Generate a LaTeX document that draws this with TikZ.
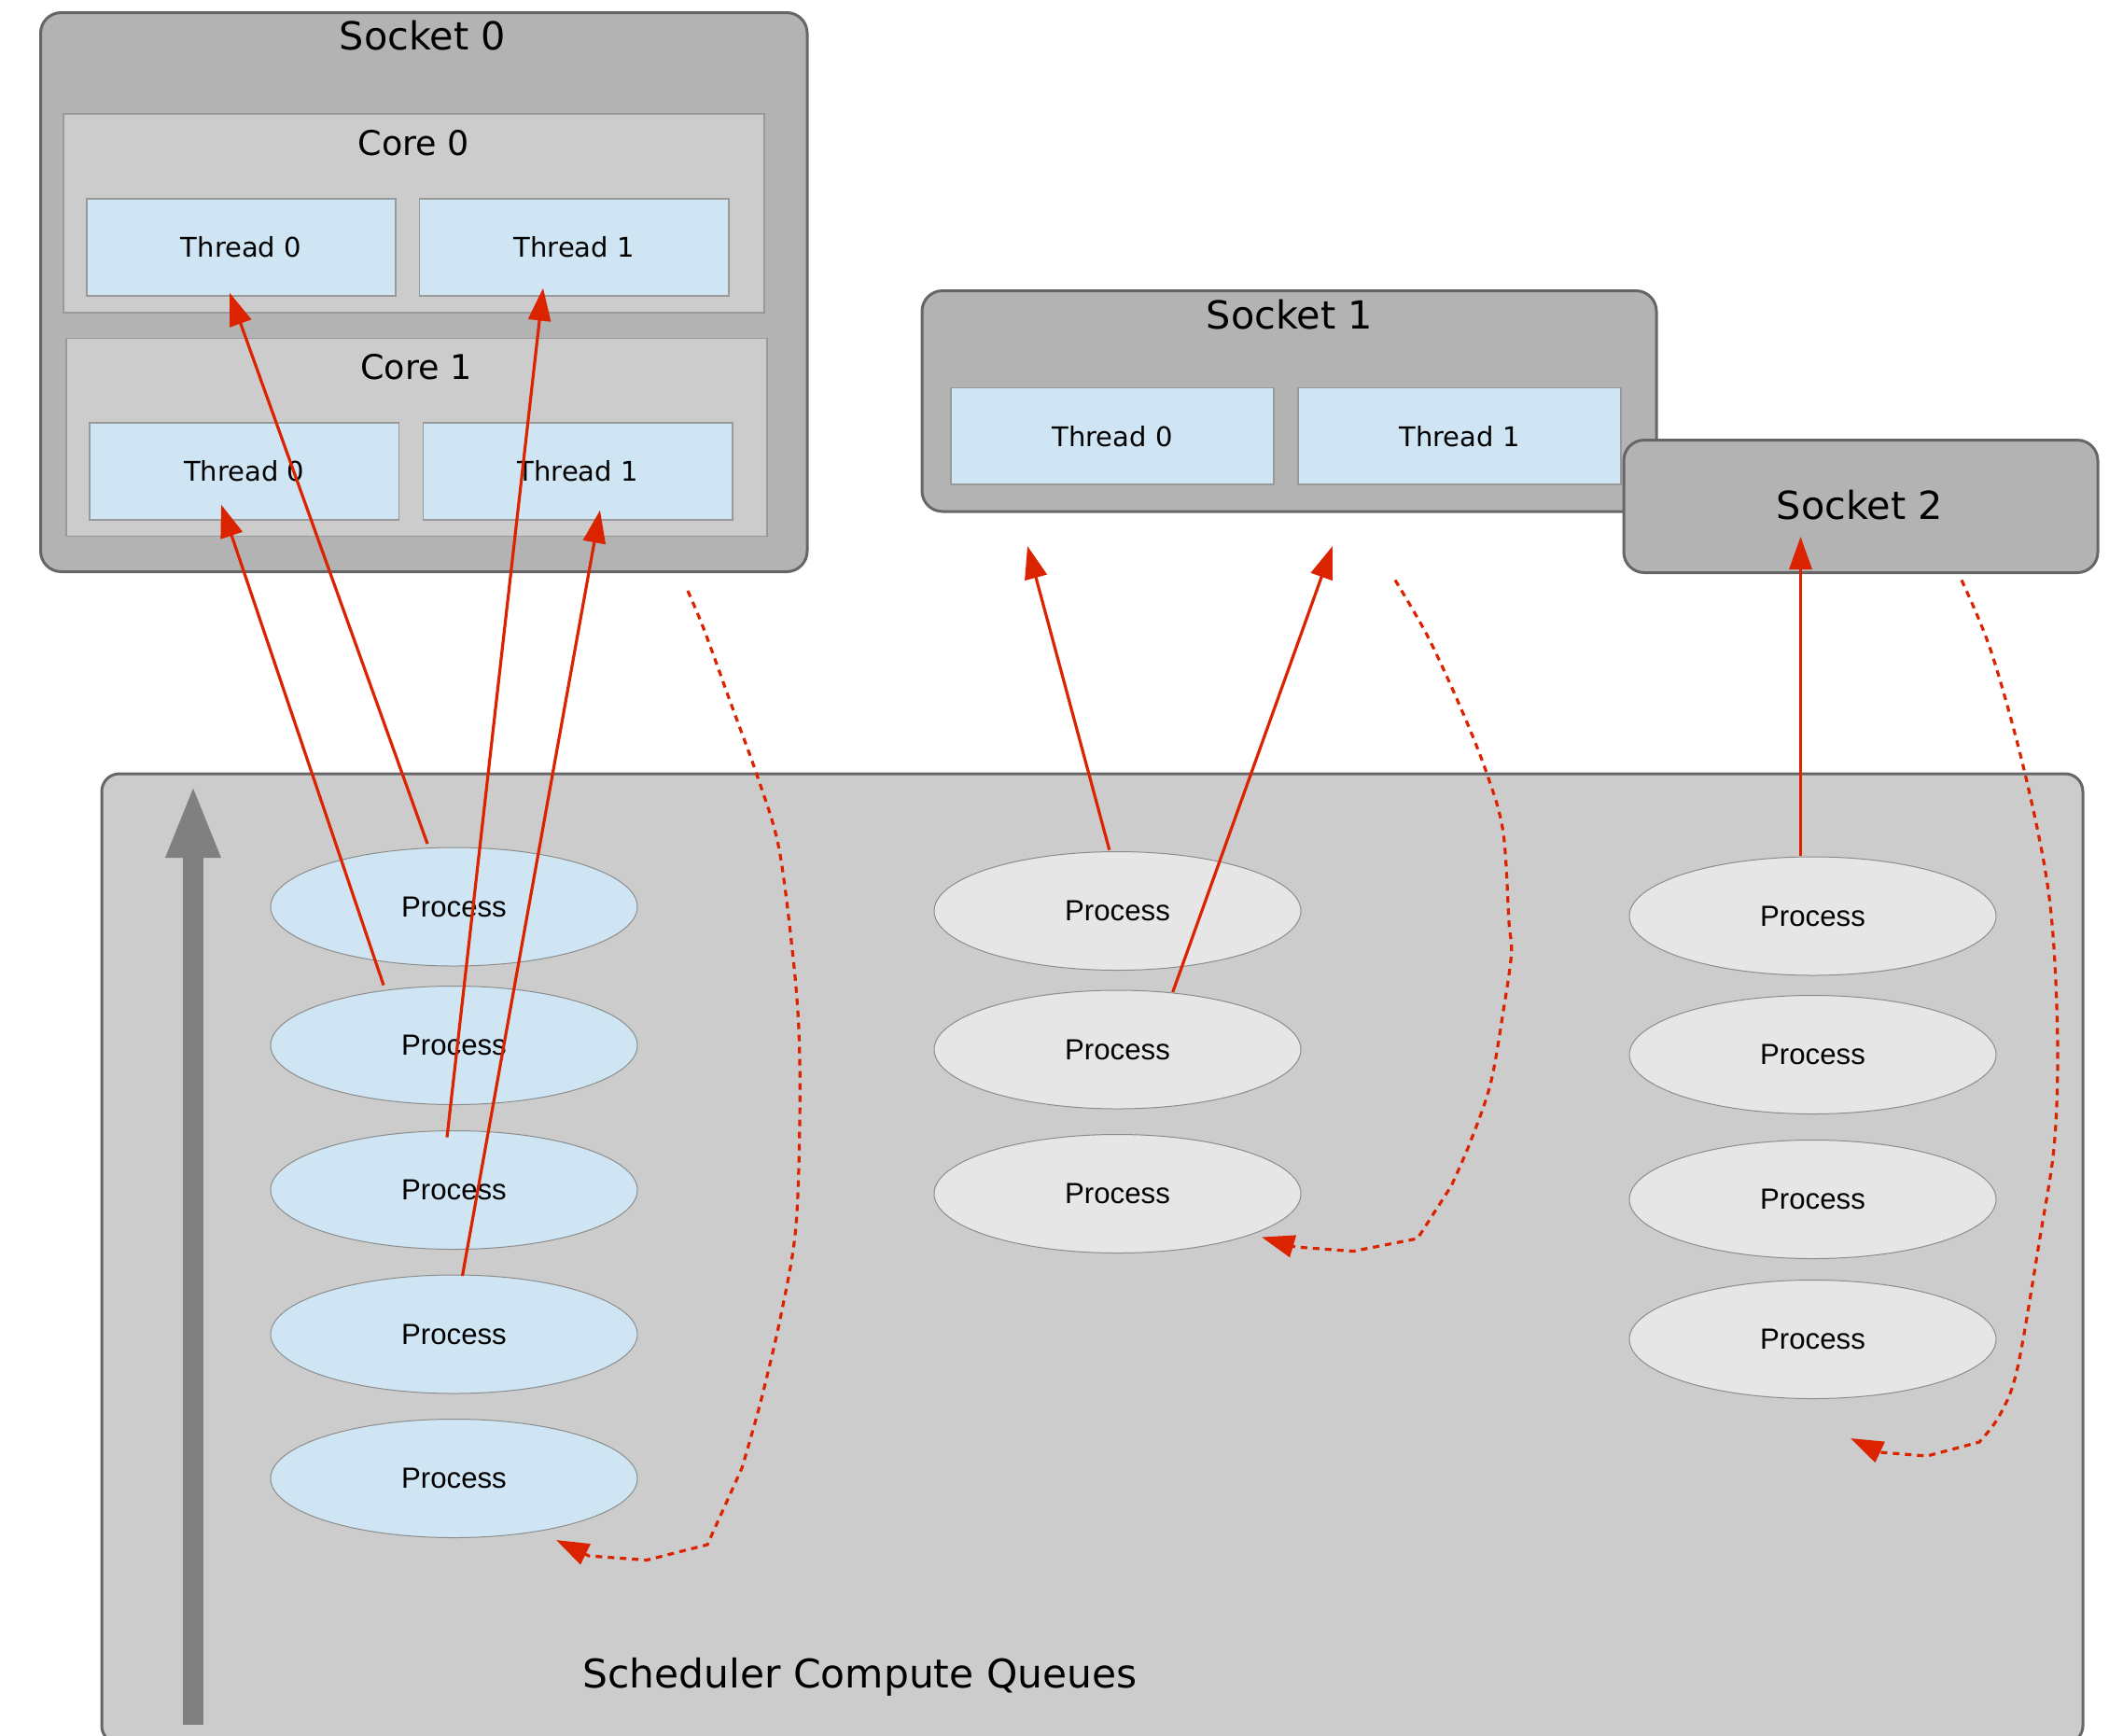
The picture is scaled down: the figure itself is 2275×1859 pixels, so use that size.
\documentclass[tikz,border=0pt]{standalone}
\usepackage{fontspec}
\newfontfamily\dejavu{DejaVu Sans}
\newfontfamily\arialfont{Liberation Sans}
\usetikzlibrary{arrows.meta,shapes.geometric,fit}
\definecolor{socketfill}{HTML}{B3B3B3}
\definecolor{framedraw}{HTML}{666666}
\definecolor{corefill}{HTML}{CCCCCC}
\definecolor{coredraw}{HTML}{999999}
\definecolor{threadfill}{HTML}{CFE5F3}
\definecolor{procgray}{HTML}{E6E6E6}
\definecolor{procdraw}{HTML}{8C8C8C}
\definecolor{edgered}{HTML}{DC2300}
\definecolor{queuegray}{HTML}{808080}

\begin{document}
\begin{tikzpicture}[x=0.5pt, y=-0.5pt,
  socketbox/.style={draw=framedraw, fill=socketfill, line width=1.5pt, rounded corners=11pt, inner sep=0pt},
  corebox/.style={draw=coredraw, fill=corefill, line width=0.75pt, inner sep=0pt},
  threadbox/.style={draw=coredraw, fill=threadfill, line width=0.6pt, inner sep=0pt},
  threadlabel/.style={inner sep=0pt, font=\dejavu\fontsize{14.5pt}{17pt}\selectfont},
  bigtitle/.style={anchor=base, inner sep=0pt, font=\dejavu\fontsize{20.7pt}{24pt}\selectfont},
  coretitle/.style={anchor=base, inner sep=0pt, font=\dejavu\fontsize{18.25pt}{21pt}\selectfont},
  proc/.style={ellipse, draw=procdraw, line width=0.5pt, minimum width=196.5pt, minimum height=63.5pt,
    inner sep=0pt, font=\arialfont\fontsize{15.6pt}{18pt}\selectfont},
  procblue/.style={proc, fill=threadfill},
  procgrey/.style={proc, fill=procgray},
  redarrow/.style={draw=edgered, line width=1.6pt, -{Triangle[length=17.5pt,width=12pt]}},
  reddash/.style={redarrow, dash pattern=on 3.5pt off 3pt},
]
% canvas
\fill[white] (0,0) rectangle (2275,1859);
\useasboundingbox (0,0) rectangle (2275,1859);

% ---- Socket 0 with two cores ----
\node[socketbox, fit={(43.5,13.5) (865,612.5)}] (sock0) {};
\node[bigtitle] (sock0t) at (453,53.5) {Socket 0};
\node[corebox, fit={(68,122) (819,335)}] (core0) {};
\node[coretitle] (core0t) at (443.5,166.5) {Core 0};
\node[threadbox, fit={(93,213) (424,317)}] (t00) {};
\node[threadlabel] (t00l) at (t00.center) {Thread 0};
\node[threadbox, fit={(449.5,213) (781,317)}] (t01) {};
\node[threadlabel] (t01l) at (t01.center) {Thread 1};
\node[corebox, fit={(71,362.5) (822,574.5)}] (core1) {};
\node[coretitle] (core1t) at (446,406.5) {Core 1};
\node[threadbox, fit={(96,453) (427.5,557)}] (t10) {};
\node[threadlabel] (t10l) at (t10.center) {Thread 0};
\node[threadbox, fit={(453.5,453) (785,557)}] (t11) {};
\node[threadlabel] (t11l) at (t11.center) {Thread 1};

% ---- Socket 1 ----
\node[socketbox, fit={(988,311.5) (1775,548)}] (sock1) {};
\node[bigtitle] (sock1t) at (1382,352) {Socket 1};
\node[threadbox, fit={(1019,415.5) (1365,519)}] (s1t0) {};
\node[threadlabel] (s1t0l) at (s1t0.center) {Thread 0};
\node[threadbox, fit={(1391,415.5) (1737,519)}] (s1t1) {};
\node[threadlabel] (s1t1l) at (s1t1.center) {Thread 1};

% ---- Socket 2 ----
\node[socketbox, fit={(1740,471.5) (2248,613.5)}] (sock2) {};
\node[bigtitle] (sock2t) at (1993,556) {Socket 2};

% ---- Scheduler queues ----
\node[socketbox, draw=framedraw, fill=corefill, rounded corners=9.5pt, fit={(109,829) (2232,1868)}] (sched) {};
\node[bigtitle, font=\dejavu\fontsize{21.2pt}{24pt}\selectfont] (schedt) at (921.5,1808.5) {Scheduler Compute Queues};

\coordinate (qbot) at (207,1848);
\coordinate (qtop) at (207,840);
\draw[queuegray, line width=11pt, -{Triangle[length=39.5pt,width=26.5pt]}] (qbot) -- (qtop);

% left queue
\node[procblue] (p1) at (486.5,971.5) {Process};
\node[procblue] (p2) at (486.5,1120) {Process};
\node[procblue] (p3) at (486.5,1275) {Process};
\node[procblue] (p4) at (486.5,1429.5) {Process};
\node[procblue] (p5) at (486.5,1584) {Process};
% middle queue
\node[procgrey] (m1) at (1197.5,976) {Process};
\node[procgrey] (m2) at (1197.5,1124.5) {Process};
\node[procgrey] (m3) at (1197.5,1279) {Process};
% right queue
\node[procgrey] (r1) at (1942.5,981.5) {Process};
\node[procgrey] (r2) at (1942.5,1130) {Process};
\node[procgrey] (r3) at (1942.5,1285) {Process};
\node[procgrey] (r4) at (1942.5,1435) {Process};

% ---- dispatch edges ----
\coordinate (s10tip) at (1101,585);
\coordinate (s11tip) at (1428,585);
\coordinate (s2tip) at (1929.5,575);
\draw[redarrow] ([shift={(-28.5,-67.5)}]p1.center) -- ([shift={(-12.5,-4)}]t00.south);
\draw[redarrow] ([shift={(-75.5,-64.5)}]p2.center) -- ([shift={(-24.75,-17)}]t10.south);
\draw[redarrow] ([shift={(-7.5,-56.5)}]p3.center) -- ([shift={(-33.25,-9)}]t01.south);
\draw[redarrow] ([shift={(9,-62.5)}]p4.center) -- ([shift={(23.75,-11)}]t11.south);
\draw[redarrow] ([shift={(-8.7,-65.3)}]m1.center) -- (s10tip);
\draw[redarrow] ([shift={(59.2,-61.5)}]m2.center) -- (s11tip);
\draw[redarrow] ([shift={(-13,-64.5)}]r1.center) -- (s2tip);

% ---- return paths ----
\coordinate (d0s) at (737,633);
\coordinate (d1s) at (1495,621.5);
\coordinate (d2s) at (2102,621.5);
\coordinate (d2tip) at (1983,1541);
\draw[reddash] plot[smooth, tension=0.55] coordinates {(d0s) (754.5,674.7) (783.5,754.5) (812.5,834.3)
    (834.3,906.8) (848.8,1015.6) (856,1102.7) (857,1200) (852.6,1317.5) (837.2,1407.4) (815.6,1500) (795,1573)}
  -- (758,1655) -- (693,1671.5) -- (631,1667) -- ([shift={(109.5,66)}]p5.center);
\draw[reddash] plot[smooth, tension=0.55] coordinates {(d1s) (1530,682) (1566,760) (1593,828) (1610.7,891)
    (1617,988) (1619.6,1021.7) (1610.7,1084.7) (1597,1162) (1575,1225) (1555,1271)}
  -- (1519,1327) -- (1450,1340.6) -- (1388,1336) -- ([shift={(154.5,46.5)}]m3.center);
\draw[reddash] plot[smooth, tension=0.55] coordinates {(d2s) (2133,696) (2166,812.5) (2191,928.6) (2201,1015.6)
    (2205,1131) (2201,1230) (2186,1326) (2162,1465.4) (2143,1516) (2121,1545)}
  -- (2065,1560) -- (2015,1556) -- (d2tip);
\end{tikzpicture}
\end{document}
